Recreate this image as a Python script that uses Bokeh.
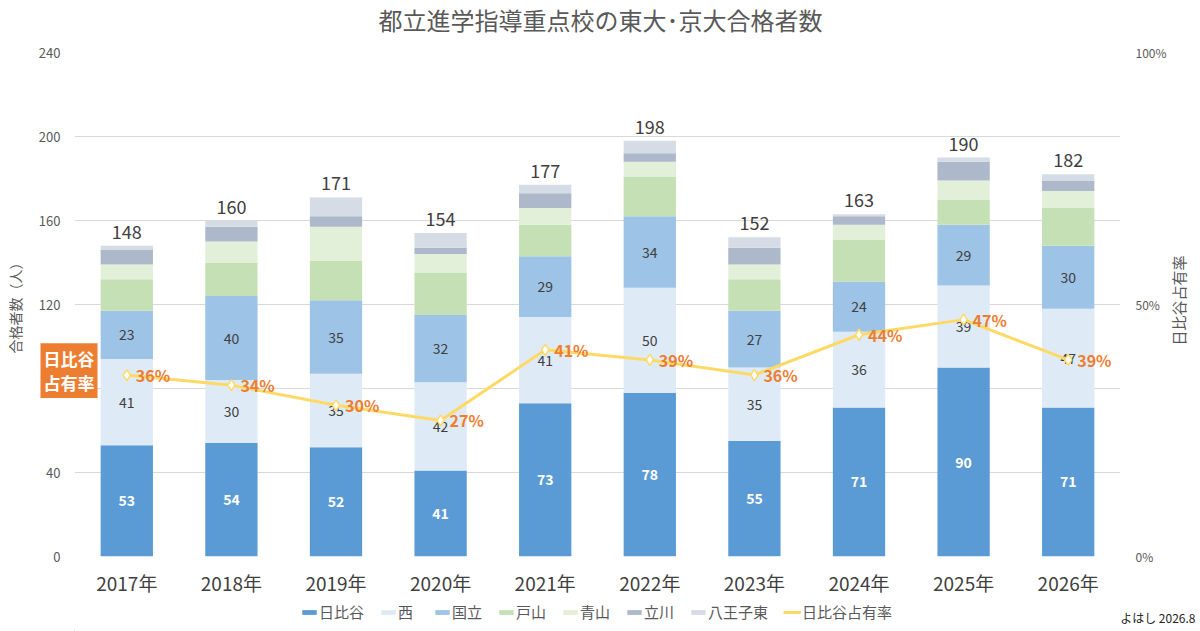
import math
from bokeh.plotting import figure
from bokeh.layouts import column
from bokeh.models import (ColumnDataSource, Range1d, LinearAxis, Legend,
                          LegendItem, FixedTicker)
from bokeh.core.properties import value
from bokeh.embed import file_html
from bokeh.resources import INLINE

# ---------------- data ----------------
years = ["2017年", "2018年", "2019年", "2020年", "2021年",
         "2022年", "2023年", "2024年", "2025年", "2026年"]
hibiya = [53, 54, 52, 41, 73, 78, 55, 71, 90, 71]
nishi = [41, 30, 35, 42, 41, 50, 35, 36, 39, 47]
kunitachi = [23, 40, 35, 32, 29, 34, 27, 24, 29, 30]
toyama = [15, 16, 19, 20, 15, 19, 15, 20, 12, 18]
aoyama = [7, 10, 16, 9, 8, 7, 7, 7, 9, 8]
tachikawa = [7, 7, 5, 3, 7, 4, 8, 4, 9, 5]
hachioji = [2, 3, 9, 7, 4, 6, 5, 1, 2, 3]
totals = [148, 160, 171, 154, 177, 198, 152, 163, 190, 182]
rate = [36, 34, 30, 27, 41, 39, 36, 44, 47, 39]

series_names = ["日比谷", "西", "国立", "戸山", "青山", "立川", "八王子東"]
series_keys = ["hibiya", "nishi", "kunitachi", "toyama", "aoyama", "tachikawa", "hachioji"]
series_colors = ["#5B9BD5", "#DEEBF7", "#9DC3E6", "#C5E0B4", "#E2F0D9", "#ADB9CA", "#D6DCE5"]
left_ticks = [0, 40, 80, 120, 160, 200, 240]
right_ticks = [0, 50, 100]
title_text = "都立進学指導重点校の東大･京大合格者数"
rate_name = "日比谷占有率"
left_label = "合格者数（人）"
box_text = "日比谷\n占有率"
footer_text = "よはし 2026.8"

FONT = "Noto Sans CJK JP"
GRAY = "#595959"
DARK = "#404040"
ORANGE = "#ED7D31"
YELLOW = "#FFD966"

src = ColumnDataSource(dict(
    year=years, hibiya=hibiya, nishi=nishi, kunitachi=kunitachi, toyama=toyama,
    aoyama=aoyama, tachikawa=tachikawa, hachioji=hachioji, total=totals, rate=rate,
    y_h=[h / 2 for h in hibiya],
    y_n=[h + n / 2 for h, n in zip(hibiya, nishi)],
    y_k=[h + n + k / 2 for h, n, k in zip(hibiya, nishi, kunitachi)],
    t_h=[str(v) for v in hibiya],
    t_n=[str(v) for v in nishi],
    t_k=[str(v) for v in kunitachi],
    t_tot=[str(v) for v in totals],
    t_rate=[f"{v}%" for v in rate],
))

FL, FR, FT, FB = 74, 1120, 52, 559   # frame edges on the page
MAIN_H = 598
p = figure(x_range=years, y_range=Range1d(0, 240), width=1200, height=MAIN_H,
           output_backend="svg", toolbar_location=None,
           min_border_left=FL, min_border_right=1200 - FR, min_border_top=FT,
           min_border_bottom=MAIN_H - FB)
p.outline_line_color = None
p.background_fill_color = "white"
p.border_fill_color = "white"
p.extra_y_ranges = {"rate": Range1d(0, 100)}

# grid
p.xgrid.visible = False
p.ygrid.grid_line_color = "#D9D9D9"
p.ygrid.grid_line_width = 1
p.ygrid.ticker = FixedTicker(ticks=left_ticks)

# left axis
ya = p.yaxis[0]
ya.ticker = FixedTicker(ticks=left_ticks)
ya.axis_line_color = None
ya.major_tick_line_color = None
ya.minor_tick_line_color = None
ya.major_tick_out = 0
ya.major_label_standoff = 14
ya.major_label_text_font = FONT
ya.major_label_text_font_size = "13px"
ya.major_label_text_color = GRAY
ya.axis_label = left_label
ya.axis_label_text_font = FONT
ya.axis_label_text_font_size = "14px"
ya.axis_label_text_font_style = "normal"
ya.axis_label_text_color = GRAY
ya.axis_label_standoff = 11

# x axis
xa = p.xaxis[0]
xa.axis_line_color = None
xa.major_tick_line_color = None
xa.minor_tick_line_color = None
xa.major_tick_out = 0
xa.major_label_standoff = 12
xa.major_label_text_font = FONT
xa.major_label_text_font_size = "19px"
xa.major_label_text_color = DARK

# right axis
ra = LinearAxis(y_range_name="rate", ticker=FixedTicker(ticks=right_ticks),
                major_label_overrides={t: f"{t}%" for t in right_ticks})
ra.axis_line_color = None
ra.major_tick_line_color = None
ra.minor_tick_line_color = None
ra.major_tick_out = 0
ra.major_label_standoff = 15
ra.major_label_text_font = FONT
ra.major_label_text_font_size = "12px"
ra.major_label_text_color = GRAY
p.add_layout(ra, "right")

# bars
bars = p.vbar_stack(series_keys, x="year", width=0.5, color=series_colors,
                    line_color=None, source=src)

# segment labels
p.text(x="year", y="y_h", text="t_h", source=src, text_font=value(FONT),
       text_font_size="14px", text_font_style="bold", text_color="white",
       text_align="center", text_baseline="middle")
p.text(x="year", y="y_n", text="t_n", source=src, text_font=value(FONT),
       text_font_size="14px", text_color=DARK,
       text_align="center", text_baseline="middle")
p.text(x="year", y="y_k", text="t_k", source=src, text_font=value(FONT),
       text_font_size="14px", text_color=DARK,
       text_align="center", text_baseline="middle")
# totals
p.text(x="year", y="total", text="t_tot", source=src, text_font=value(FONT),
       text_font_size="18px", text_color=DARK, y_offset=-7,
       text_align="center", text_baseline="bottom")

# rate line
rl = p.line(x="year", y="rate", source=src, y_range_name="rate",
            line_color=YELLOW, line_width=3)
rp = p.scatter(x="year", y="rate", source=src, y_range_name="rate",
               marker="diamond", size=11, fill_color="white",
               line_color=YELLOW, line_width=1.5)
p.text(x="year", y="rate", text="t_rate", source=src, y_range_name="rate",
       text_font=value(FONT), text_font_size="16px", text_font_style="bold",
       text_color=ORANGE, x_offset=9, text_align="left", text_baseline="middle")

# free texts, anchored at the frame's bottom-left corner (x=0, y=0) and moved in pixels
def free_text(txt, dx, dy, **kw):
    p.text(x=[0], y=[0], text=[txt], x_offset=dx, y_offset=dy, level="overlay",
           text_font=value(FONT), **kw)

free_text(title_text, 600 - FL, 22 - FB, text_font_size="24px", text_color=GRAY,
          text_align="center", text_baseline="middle")
free_text(rate_name, 1178 - FL, 303 - FB, angle=math.pi / 2, text_font_size="15px",
          text_color=GRAY, text_align="center", text_baseline="middle")
free_text(box_text, 68.5 - FL, 373 - FB, text_font_size="17px", text_font_style="bold",
          text_color="white", background_fill_color=ORANGE, padding=3,
          text_line_height=0.95, text_align="center", text_baseline="middle")

# ---------------- legend strip ----------------
LEG_H = 631 - MAIN_H
lf = figure(width=1200, height=LEG_H, x_range=Range1d(FL, FR), y_range=Range1d(0, LEG_H),
            output_backend="svg", toolbar_location=None,
            min_border_left=FL, min_border_right=1200 - FR, min_border_top=0,
            min_border_bottom=0, x_axis_type=None, y_axis_type=None)
lf.outline_line_color = None
lf.xgrid.visible = False
lf.ygrid.visible = False
lf.background_fill_color = "white"
lf.border_fill_color = "white"

# legend proxies: one point far outside the visible range so the legend can draw them
leg_items = []
for n, c in zip(series_names, series_colors):
    r = lf.vbar(x=[-5000], top=[1], width=1, color=c, line_color=None)
    leg_items.append(LegendItem(label=n, renderers=[r]))
dl = lf.line(x=[-5000, -4999], y=[1, 1], line_color=YELLOW, line_width=3)
dp = lf.scatter(x=[-5000], y=[1], marker="diamond", size=10, fill_color="white",
                line_color=YELLOW, line_width=1.5)
leg_items.append(LegendItem(label=rate_name, renderers=[dl, dp]))
leg = Legend(items=leg_items, orientation="horizontal", location=(300 - FL, 9),
             border_line_color=None, background_fill_alpha=0,
             label_text_font=FONT, label_text_font_size="15px",
             label_text_color=GRAY, glyph_width=18, glyph_height=6,
             label_height=14, label_standoff=1, spacing=15, padding=4, margin=0)
lf.add_layout(leg, "center")
lf.text(x=[1195], y=[631 - 617], text=[footer_text], level="overlay",
        text_font=value(FONT), text_font_size="12px", text_color="#262626",
        text_align="right", text_baseline="middle")

page = column(p, lf, spacing=0)
open("out.html", "w").write(file_html(page, INLINE))
